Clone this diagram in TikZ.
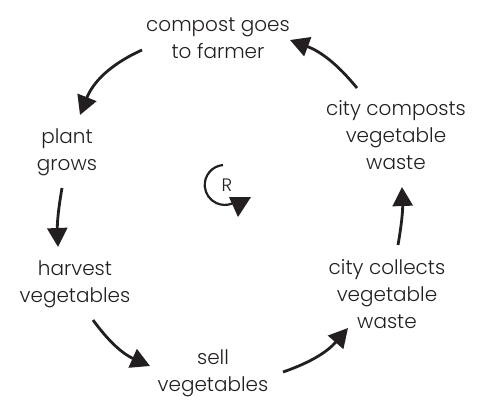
\documentclass[tikz,border=0pt]{standalone}
\usepackage{fontspec}
\setmainfont{Poppins}[UprightFont=* Light]
\usetikzlibrary{arrows.meta,calc}
\definecolor{ink}{HTML}{231F20}
\tikzset{
  stage/.style={align=center, text=ink, font=\fontsize{20}{27}\selectfont, inner sep=0pt},
  flow/.style={line width=2.8pt, draw=ink, -{Triangle[length=19pt,width=20pt]}},
}
\begin{document}
\begin{tikzpicture}[x=1pt,y=-1pt]
\useasboundingbox (0,0) rectangle (482,402);
% stages of the cycle
\node[stage] (compost)  at (218,38)  {compost goes\\to farmer};
\node[stage] (plant)    at (67,152)  {plant\\grows};
\node[stage] (harvest)  at (75,284)  {harvest\\vegetables};
\node[stage] (sell)     at (213,373) {sell\\vegetables};
\node[stage] (collect)  at (387,294) {city collects\\vegetable\\waste};
\node[stage] (composts) at (396,135) {city composts\\vegetable\\waste};
% links between stages
\draw[flow] ($(compost)+(-76,12)$)  to[bend right=22] ($(plant)+(13,-37)$);
\draw[flow] ($(plant)+(-5,36)$)     to[bend right=6]  ($(harvest)+(-17,-37)$);
\draw[flow] ($(harvest)+(18,36)$)   to[bend right=15] ($(sell)+(-63,-7)$);
\draw[flow] ($(sell)+(70,-1)$)      to[bend right=15] ($(collect)+(-39,34)$);
\draw[flow] ($(collect)+(11,-49)$)  to[bend right=6]  ($(composts)+(6,52)$);
\draw[flow] ($(composts)+(-39,-47)$) to[bend right=15] ($(compost)+(72,2)$);
% reinforcing loop marker
\node[text=ink, font=\fontsize{18}{18}\selectfont, inner sep=0pt] (loop) at (227,185) {R};
\draw[ink, line width=2.2pt] ($(loop)+(-4,-20)$) arc[start angle=-95, end angle=-292, radius=20];
\fill[ink] ($(loop)+(2,12)$) -- ($(loop)+(24,12)$) -- ($(loop)+(11,32)$) -- cycle;
\end{tikzpicture}
\end{document}
